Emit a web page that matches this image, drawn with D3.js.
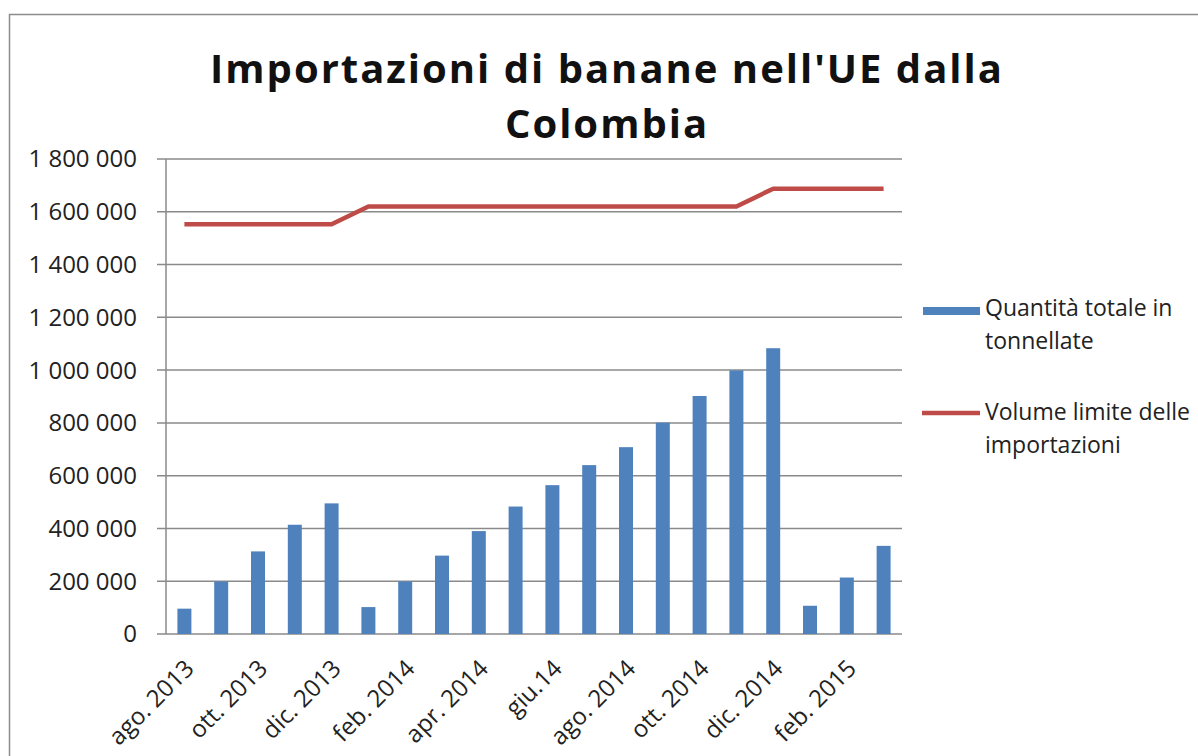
<!DOCTYPE html>
<html>
<head>
<meta charset="utf-8">
<script src="https://cdn.jsdelivr.net/npm/d3@7/dist/d3.min.js"></script>
<style>
  html, body { margin: 0; padding: 0; background: #fff; }
  svg { display: block; font-family: "Open Sans", "Noto Sans", sans-serif; }
  .grid line { stroke: #8a8a8a; stroke-width: 1.5; }
  .tick-lbl { font-size: 24px; fill: #222; }
  .legend-lbl { font-size: 23px; fill: #222; }
  .title { font-size: 40px; font-weight: 700; fill: #111; letter-spacing: 2px; }
</style>
</head>
<body>
<svg id="chart" width="1198" height="756"></svg>
<script>
// months on the category axis (only every second one gets a label)
var months = [
  "ago. 2013", "set. 2013", "ott. 2013", "nov. 2013", "dic. 2013",
  "gen. 2014", "feb. 2014", "mar. 2014", "apr. 2014", "mag. 2014",
  "giu.14", "lug. 2014", "ago. 2014", "set. 2014", "ott. 2014",
  "nov. 2014", "dic. 2014", "gen. 2015", "feb. 2015", "mar. 2015"
];
// cumulative quantity imported, tonnes
var quantita = [
  96000, 199000, 313000, 414000, 495000,
  102000, 199000, 297000, 390000, 483000,
  564000, 640000, 708000, 801000, 902000,
  999000, 1083000, 107000, 214000, 334000
];
// import trigger volume, tonnes
var limite = [
  1552500, 1552500, 1552500, 1552500, 1552500,
  1620000, 1620000, 1620000, 1620000, 1620000,
  1620000, 1620000, 1620000, 1620000, 1620000,
  1620000, 1687500, 1687500, 1687500, 1687500
];
var yTicks = [0, 200000, 400000, 600000, 800000, 1000000, 1200000, 1400000, 1600000, 1800000];
var titleLines = ["Importazioni di banane nell'UE dalla", "Colombia"];
var legendItems = [
  { kind: "bar", lines: ["Quantità totale in", "tonnellate"] },
  { kind: "line", lines: ["Volume limite delle", "importazioni"] }
];

var BAR = "#4f81bd", LINE = "#be4b48";
var svg = d3.select("#chart");
var L = 166, R = 902, T = 159, B = 634;

// outer chart frame (runs off the picture right and bottom)
svg.append("rect").attr("x", 9.5).attr("y", 14.5).attr("width", 1300).attr("height", 900)
  .attr("fill", "none").attr("stroke", "#8c8c8c").attr("stroke-width", 1.5);

// title
svg.append("g").selectAll("text").data(titleLines).join("text")
  .attr("class", "title")
  .attr("x", 607).attr("y", function (d, i) { return 83 + i * 55; })
  .attr("text-anchor", "middle")
  .text(function (d) { return d; });

var x = d3.scaleBand().domain(months).range([L, R]).paddingInner(0.62).paddingOuter(0.31);
var y = d3.scaleLinear().domain([0, 1800000]).range([B, T]);
var fmt = d3.formatLocale({ decimal: ",", thousands: " ", grouping: [3], currency: ["", " €"] }).format(",d");

// gridlines + tick stubs
svg.append("g").attr("class", "grid").selectAll("line").data(yTicks).join("line")
  .attr("x1", L - 9).attr("x2", R).attr("y1", function (d) { return y(d); }).attr("y2", function (d) { return y(d); });
svg.append("line").attr("x1", L).attr("x2", L).attr("y1", T).attr("y2", B)
  .attr("stroke", "#8a8a8a").attr("stroke-width", 1.5);

// y labels
svg.append("g").selectAll("text").data(yTicks).join("text")
  .attr("class", "tick-lbl").attr("x", 137).attr("y", function (d) { return y(d); })
  .attr("dy", "0.35em").attr("text-anchor", "end").text(fmt);

// bars
svg.append("g").selectAll("rect").data(quantita).join("rect")
  .attr("x", function (d, i) { return x(months[i]); })
  .attr("width", x.bandwidth())
  .attr("y", function (d) { return y(d); })
  .attr("height", function (d) { return B - y(d); })
  .attr("fill", BAR);

// limit line
var line = d3.line()
  .x(function (d, i) { return x(months[i]) + x.bandwidth() / 2; })
  .y(function (d) { return y(d); });
svg.append("path").datum(limite).attr("d", line)
  .attr("fill", "none").attr("stroke", LINE).attr("stroke-width", 4.5).attr("stroke-linejoin", "round");

// x labels, every second month, rotated
svg.append("g").selectAll("text").data(months.filter(function (d, i) { return i % 2 === 0; })).join("text")
  .attr("class", "tick-lbl")
  .attr("transform", function (d) { return "translate(" + (x(d) + x.bandwidth() / 2 + 5) + "," + (B + 30) + ") rotate(-45)"; })
  .attr("text-anchor", "end").attr("dy", "0.35em")
  .text(function (d) { return d; });

// legend
var lg = svg.append("g").selectAll("g").data(legendItems).join("g")
  .attr("transform", function (d, i) { return "translate(922," + (i === 0 ? 311 : 413) + ")"; });
lg.each(function (d, i) {
  var g = d3.select(this);
  if (d.kind === "bar") g.append("rect").attr("x", 1).attr("y", -4).attr("width", 57).attr("height", 8).attr("fill", BAR);
  else g.append("line").attr("x1", 0).attr("x2", 58).attr("stroke", LINE).attr("stroke-width", 4.5);
  g.selectAll("text").data(d.lines).join("text")
    .attr("class", "legend-lbl").attr("x", 63).attr("y", function (t, j) { return (i === 0 ? 5 : 7) + j * 33; })
    .text(function (t) { return t; });
});
</script>
</body>
</html>
